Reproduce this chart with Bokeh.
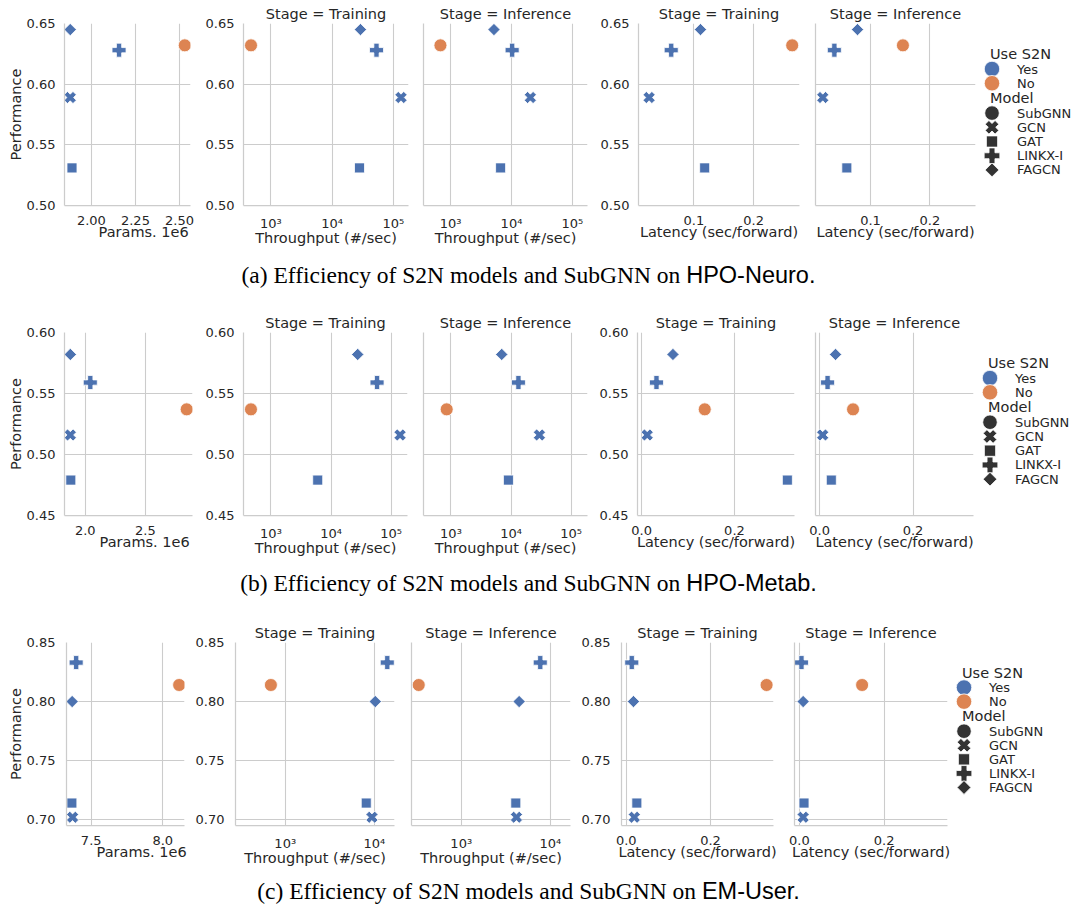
import math
from bokeh.plotting import figure
from bokeh.models import ColumnDataSource, Range1d, FixedTicker, PrintfTickFormatter, Div
from bokeh.layouts import row, column
from bokeh.embed import file_html
from bokeh.resources import INLINE
from bokeh.core.properties import value

# ---------------- data ----------------
MODELS = ["SubGNN", "GCN", "GAT", "LINKX-I", "FAGCN"]
USE_S2N = ["No", "Yes", "Yes", "Yes", "Yes"]
S2N_LEVELS = ["Yes", "No"]
STAGES = ["Training", "Inference"]

# (a) HPO-Neuro
neuro_perf = [0.632, 0.589, 0.531, 0.628, 0.645]
neuro_params = [2.53, 1.88, 1.89, 2.157, 1.88]          # x 1e6
neuro_thr_train = [475, 133700, 28100, 53200, 29100]
neuro_thr_infer = [680, 20400, 6620, 10250, 5150]
neuro_lat_train = [0.2645, 0.025, 0.118, 0.062, 0.111]
neuro_lat_infer = [0.1545, 0.0195, 0.060, 0.039, 0.078]
neuro_ylim = [0.50, 0.65]
neuro_yticks = [0.50, 0.55, 0.60, 0.65]
neuro_param_ticks = [2.00, 2.25, 2.50]
neuro_thr_ticks = [1e3, 1e4, 1e5]
neuro_lat_ticks = [0.1, 0.2]

# (b) HPO-Metab
metab_perf = [0.537, 0.516, 0.479, 0.559, 0.582]
metab_params = [2.843, 1.876, 1.88, 2.042, 1.876]
metab_thr_train = [464, 141000, 6000, 58400, 27800]
metab_thr_infer = [848, 29700, 9050, 13270, 7000]
metab_lat_train = [0.136, 0.012, 0.314, 0.032, 0.0675]
metab_lat_infer = [0.0715, 0.0065, 0.025, 0.017, 0.034]
metab_ylim = [0.45, 0.60]
metab_yticks = [0.45, 0.50, 0.55, 0.60]
metab_param_ticks = [2.0, 2.5]
metab_thr_ticks = [1e3, 1e4, 1e5]
metab_lat_ticks = [0.0, 0.2]

# (c) EM-User
user_perf = [0.814, 0.702, 0.714, 0.833, 0.800]
user_params = [8.114, 7.37, 7.365, 7.395, 7.367]
user_thr_train = [690, 9420, 8130, 14000, 10260]
user_thr_infer = [333, 4170, 4100, 7720, 4470]
user_lat_train = [0.333, 0.019, 0.025, 0.013, 0.017]
user_lat_infer = [0.148, 0.009, 0.011, 0.005, 0.009]
user_ylim = [0.695, 0.85]
user_yticks = [0.70, 0.75, 0.80, 0.85]
user_param_ticks = [7.5, 8.0]
user_thr_ticks = [1e3, 1e4]
user_lat_ticks = [0.0, 0.2]

DATASETS = [
    dict(tag="(a)", name="HPO-Neuro", perf=neuro_perf, params=neuro_params,
         thr=[neuro_thr_train, neuro_thr_infer], lat=[neuro_lat_train, neuro_lat_infer],
         ylim=neuro_ylim, yticks=neuro_yticks, pticks=neuro_param_ticks, pfmt="%.2f",
         tticks=neuro_thr_ticks, lticks=neuro_lat_ticks),
    dict(tag="(b)", name="HPO-Metab", perf=metab_perf, params=metab_params,
         thr=[metab_thr_train, metab_thr_infer], lat=[metab_lat_train, metab_lat_infer],
         ylim=metab_ylim, yticks=metab_yticks, pticks=metab_param_ticks, pfmt="%.1f",
         tticks=metab_thr_ticks, lticks=metab_lat_ticks),
    dict(tag="(c)", name="EM-User", perf=user_perf, params=user_params,
         thr=[user_thr_train, user_thr_infer], lat=[user_lat_train, user_lat_infer],
         ylim=user_ylim, yticks=user_yticks, pticks=user_param_ticks, pfmt="%.1f",
         tticks=user_thr_ticks, lticks=user_lat_ticks),
]

# ---------------- style ----------------
FONT = "DejaVu Sans"
TXT = "#262626"
GRID = "#cccccc"
COLOR = {"Yes": "#4c72b0", "No": "#dd8452"}
MARKER = {"SubGNN": "circle", "GCN": "plus", "GAT": "square", "LINKX-I": "plus", "FAGCN": "square"}
ANGLE = {"SubGNN": 0.0, "GCN": math.pi / 4, "GAT": 0.0, "LINKX-I": 0.0, "FAGCN": math.pi / 4}
SIZE = {"SubGNN": 13, "GCN": 12.5, "GAT": 10, "LINKX-I": 14, "FAGCN": 8.7}
NBSP = "\u00a0"
PARAMS_LABEL = NBSP * 7 + "Params." + " 1e6"   # "Params." centred, offset "1e6" at the right

T = 21  # height of the title panel
GEOM = [
    dict(H=182, B=53, panels=[(64, 126), (49, 165), (11, 164), (47, 161), (12, 160)], lw=94, ystand=9,
         cap_h=53, cap_lh=34),
    dict(H=183, B=53, panels=[(64, 128), (47, 164), (12, 164), (46, 157), (17, 158)], lw=96, ystand=9,
         cap_h=53, cap_lh=31),
    dict(H=183, B=56, panels=[(66, 118), (47, 159), (13, 159), (47, 152), (17, 153)], lw=122, ystand=11,
         cap_h=20, cap_lh=20),
]
R = 4


def padded(vals, log=False):
    if log:
        lv = [math.log10(v) for v in vals]
        lo, hi = min(lv), max(lv)
        d = (hi - lo) * 0.05
        return 10 ** (lo - d), 10 ** (hi + d)
    lo, hi = min(vals), max(vals)
    d = (hi - lo) * 0.05
    return lo - d, hi + d


def make_panel(xvals, perf, xr, yr, xticks, xfmt, yticks, L, W, g, show_ylab, ylabel,
               xlabel, title=" ", log=False):
    H, B = g["H"], g["B"]
    p = figure(width=L + W + R, height=T + H + B, min_border_left=L, min_border_right=R,
               min_border_top=0, min_border_bottom=B,
               x_range=Range1d(*xr), y_range=Range1d(*yr),
               x_axis_type="log" if log else "linear",
               output_backend="svg", toolbar_location=None)
    p.outline_line_color = None
    p.title.text = title
    p.title.align = "center"
    p.title.text_font = FONT
    p.title.text_font_size = "14.5px"
    p.title.text_font_style = "normal"
    p.title.text_color = TXT
    p.title.standoff = 3
    for ax in (p.xaxis[0], p.yaxis[0]):
        ax.axis_line_color = GRID
        ax.axis_line_width = 1.25
        ax.major_tick_out = 0
        ax.major_tick_in = 0
        ax.minor_tick_out = 0
        ax.minor_tick_in = 0
        ax.major_tick_line_color = None
        ax.minor_tick_line_color = None
        ax.major_label_text_font = FONT
        ax.major_label_text_font_size = "13px"
        ax.major_label_text_color = TXT
        ax.axis_label_text_font = FONT
        ax.axis_label_text_font_size = "14.5px"
        ax.axis_label_text_font_style = "normal"
        ax.axis_label_text_color = TXT
    xa, ya = p.xaxis[0], p.yaxis[0]
    xa.ticker = FixedTicker(ticks=xticks, minor_ticks=[])
    if log:
        sup = {2: "\u00b2", 3: "\u00b3", 4: "\u2074", 5: "\u2075", 6: "\u2076"}
        xa.major_label_overrides = {t: "10" + sup[int(round(math.log10(t)))] for t in xticks}
    else:
        xa.formatter = PrintfTickFormatter(format=xfmt)
    xa.major_label_standoff = 10
    xa.axis_label = xlabel
    xa.axis_label_standoff = -4
    p.xgrid.ticker = FixedTicker(ticks=xticks, minor_ticks=[])
    p.ygrid.ticker = FixedTicker(ticks=yticks, minor_ticks=[])
    if show_ylab:
        ya.ticker = FixedTicker(ticks=yticks, minor_ticks=[])
        ya.formatter = PrintfTickFormatter(format="%.2f")
        ya.major_label_standoff = g["ystand"]
        if ylabel:
            ya.axis_label = ylabel
            ya.axis_label_standoff = 0
    else:
        ya.ticker = FixedTicker(ticks=[], minor_ticks=[])
        ya.major_label_standoff = 0
    p.xgrid.grid_line_color = GRID
    p.ygrid.grid_line_color = GRID
    p.xgrid.grid_line_width = 1.1
    p.ygrid.grid_line_width = 1.1

    src = ColumnDataSource(dict(
        x=xvals, y=perf,
        marker=[MARKER[m] for m in MODELS],
        size=[SIZE[m] for m in MODELS],
        angle=[ANGLE[m] for m in MODELS],
        color=[COLOR[s] for s in USE_S2N],
    ))
    p.scatter(x="x", y="y", marker="marker", size="size", angle="angle",
              fill_color="color", line_color="white", line_width=0.8, source=src)
    return p


def make_legend(g):
    w = g["lw"]
    h = T + g["H"] + g["B"]
    t = T
    lp = figure(width=w, height=h, x_range=Range1d(0, w), y_range=Range1d(h, 0),
                min_border=0, toolbar_location=None, output_backend="svg",
                x_axis_type=None, y_axis_type=None)
    lp.outline_line_color = None
    lp.grid.visible = False
    xm, xt, xh = 12.5, 37.5, 10.5
    lp.text(x=[xh, xh], y=[t + 22, t + 84], text=["Use S2N", "Model"],
            text_font=value(FONT), text_font_size="14.5px", text_color=TXT,
            text_baseline="middle", text_align="left")
    hy = [t + 43, t + 63]
    lp.scatter(x=[xm] * 2, y=hy, marker="circle", size=15.5,
               fill_color=[COLOR[s] for s in S2N_LEVELS], line_color="white", line_width=0.8)
    lp.text(x=[xt] * 2, y=hy, text=S2N_LEVELS, text_font=value(FONT), text_font_size="13px",
            text_color=TXT, text_baseline="middle", text_align="left")
    my = [t + 105 + 20 * i for i in range(len(MODELS))]
    lp.scatter(x=[xm] * len(MODELS), y=my, marker=[MARKER[m] for m in MODELS],
               size=[SIZE[m] * 1.12 for m in MODELS], angle=[ANGLE[m] for m in MODELS],
               fill_color="#333333", line_color="white", line_width=0.8)
    lp.text(x=[xt] * len(MODELS), y=my, text=MODELS, text_font=value(FONT), text_font_size="13px",
            text_color=TXT, text_baseline="middle", text_align="left")
    return lp


blocks = []
for d, g in zip(DATASETS, GEOM):
    pan = g["panels"]
    yr = tuple(d["ylim"])
    figs = []
    figs.append(make_panel(d["params"], d["perf"], padded(d["params"]), yr, d["pticks"], d["pfmt"],
                           d["yticks"], pan[0][0], pan[0][1], g, True, "Performance", PARAMS_LABEL))
    txr = padded(d["thr"][0] + d["thr"][1], log=True)
    for i, st in enumerate(STAGES):
        L, W = pan[1 + i]
        figs.append(make_panel(d["thr"][i], d["perf"], txr, yr, d["tticks"], None, d["yticks"],
                               L, W, g, i == 0, None, "Throughput (#/sec)",
                               title="Stage = " + st, log=True))
    lxr = padded(d["lat"][0] + d["lat"][1])
    for i, st in enumerate(STAGES):
        L, W = pan[3 + i]
        figs.append(make_panel(d["lat"][i], d["perf"], lxr, yr, d["lticks"], "%.1f", d["yticks"],
                               L, W, g, i == 0, None, "Latency (sec/forward)",
                               title="Stage = " + st))
    figs.append(make_legend(g))
    blocks.append(row(*figs, spacing=0))
    html = ('<div style="width:1057px;text-align:center;font-size:23.5px;line-height:%dpx;'
            'color:#000;white-space:nowrap;margin:0;padding:0;">'
            '<span style="font-family:\'Liberation Serif\';">%s Efficiency of S2N models and SubGNN on </span>'
            '<span style="font-family:\'Liberation Sans\';">%s.</span></div>') % (g["cap_lh"], d["tag"], d["name"])
    blocks.append(Div(text=html, width=1065, height=g["cap_h"], margin=(0, 0, 0, 0)))

layout = column(*blocks, spacing=0, margin=(2, 0, 0, 0))

with open("out.html", "w") as f:
    f.write(file_html(layout, INLINE))
